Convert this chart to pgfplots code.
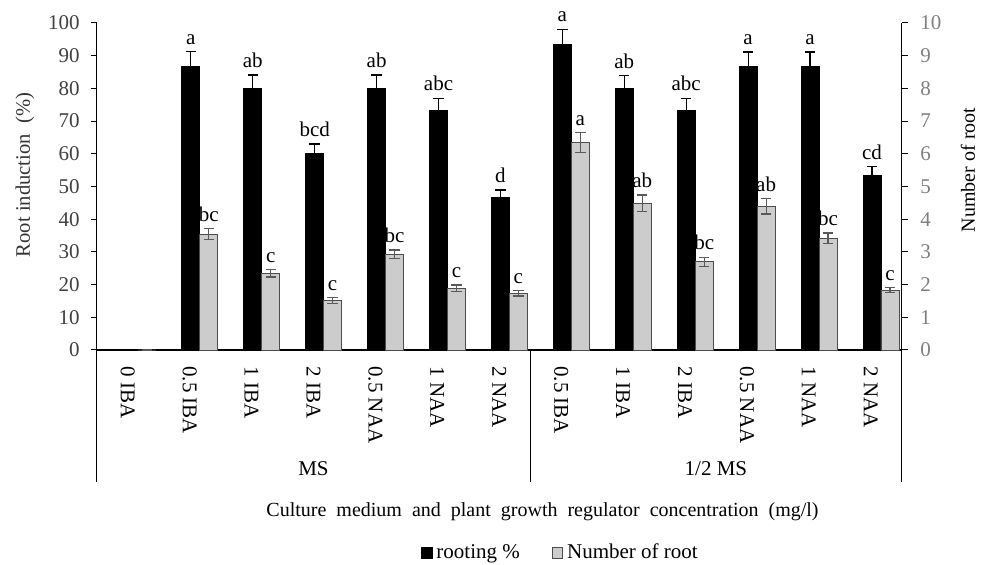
\documentclass[border=0pt]{standalone}
\usepackage{fontspec}
\setmainfont{Liberation Serif}
\usepackage{pgfplots}
\pgfplotsset{compat=1.18}
\usepackage{pgfplotstable}
\newcommand\fs[1]{\fontsize{#1}{#1}\selectfont}

\pgfplotstableread{
x  root  rerr  rl   num   nerr  nl
0  0     0     x    0     0     x
1  86.7  4.5   a    3.54  0.17  bc
2  80.0  4.1   ab   2.35  0.12  c
3  60.0  3.0   bcd  1.51  0.09  c
4  80.0  4.1   ab   2.93  0.13  bc
5  73.3  3.7   abc  1.89  0.10  c
6  46.7  2.2   d    1.73  0.08  c
7  93.3  4.8   a    6.34  0.30  a
8  80.0  4.0   ab   4.49  0.25  ab
9  73.3  3.7   abc  2.70  0.14  bc
10 86.7  4.4   a    4.40  0.24  ab
11 86.7  4.4   a    3.42  0.16  bc
12 53.3  2.8   cd   1.83  0.08  c
}\datatable

\begin{document}
\begin{tikzpicture}
\begin{axis}[
  name=ax,
  scale only axis, width=402.5pt, height=163.5pt,
  ybar, bar width=0.29,
  xmin=-0.5, xmax=12.5, ymin=0, ymax=100,
  enlargelimits=false, clip=false,
  axis lines*=left,
  axis line style={line width=0.6pt, black},
  xtick={0,...,12},
  xticklabels={0 IBA,0.5 IBA,1 IBA,2 IBA,0.5 NAA,1 NAA,2 NAA,0.5 IBA,1 IBA,2 IBA,0.5 NAA,1 NAA,2 NAA},
  xtick style={draw=none},
  xticklabel style={rotate=-90, anchor=west, inner sep=0pt, font=\fs{10.5}},
  xticklabel shift=5pt,
  ytick={0,10,...,100},
  tick align=outside, major tick length=3pt,
  ytick style={line width=0.5pt, black},
  yticklabel style={inner sep=0pt, font=\fs{10.5}, text=black!75},
  yticklabel shift=5.35pt,
  /pgf/number format/assume math mode=true,
  ylabel={Root induction~ (\%)},
  every axis y label/.style={at={(axis description cs:-0.0891,0.535)}, rotate=90, anchor=center, font=\fs{10.3}, text=black!80},
  xlabel={Culture~ medium~ and~ plant~ growth~ regulator~ concentration~ (mg/l)},
  every axis x label/.style={at={(axis description cs:0.5538,-0.4954)}, anchor=center, font=\fs{10}},
  legend style={at={(axis description cs:0.5774,-0.6208)}, anchor=center, draw=none, fill=none,
    legend columns=2, font=\fs{10.5}, inner sep=0pt,
    /tikz/every even column/.append style={column sep=14pt}},
  legend cell align=left,
  legend image code/.code={\draw[#1] (0pt,-2.6pt) rectangle (5.2pt,2.6pt);},
]
\addplot[fill=black, draw=black, line width=0.4pt, bar shift=0.02, forget plot,
  error bars/.cd, y dir=plus, y explicit,
  error bar style={black, line width=0.6pt},
  error mark options={rotate=90, mark size=2.6pt, black, line width=0.6pt}]
  table[x=x, y=root, y error=rerr] {\datatable};
\addplot[draw=none, fill=none, bar shift=0.02, forget plot,
  skip coords between index={0}{1},
  nodes near coords, point meta=explicit symbolic,
  every node near coord/.append style={anchor=south, inner sep=0pt, yshift=3.3pt, font=\fs{10.5}, text=black}]
  table[x=x, y expr=\thisrow{root}+\thisrow{rerr}, meta=rl] {\datatable};
\addlegendimage{fill=black, draw=black}
\addlegendentry{rooting \%}
\addlegendimage{fill=gray!40, draw=black!70}
\addlegendentry{Number of root}
% group separators and labels
\draw[line width=0.6pt, black] (axis cs:-0.5,0) -- ([yshift=-66pt]axis cs:-0.5,0);
\draw[line width=0.6pt, black] (axis cs:6.5,0) -- ([yshift=-66pt]axis cs:6.5,0);
\draw[line width=0.6pt, black] (axis cs:12.5,0) -- ([yshift=-66pt]axis cs:12.5,0);
\node[font=\fs{10.5}, anchor=center] at ([yshift=-59.5pt]axis cs:3,0) {MS};
\node[font=\fs{10.5}, anchor=center] at ([yshift=-59.5pt]axis cs:9.5,0) {1/2 MS};
\end{axis}

\begin{axis}[
  scale only axis, width=402.5pt, height=163.5pt,
  ybar, bar width=0.29,
  xmin=-0.5, xmax=12.5, ymin=0, ymax=10,
  enlargelimits=false, clip=false,
  axis y line*=right, axis x line=none,
  axis line style={line width=0.6pt, black},
  ytick={0,1,...,10},
  tick align=outside, major tick length=3pt,
  ytick style={line width=0.5pt, black},
  yticklabel style={inner sep=0pt, font=\fs{10.5}, text=black!50},
  yticklabel shift=6.15pt,
  /pgf/number format/assume math mode=true,
  ylabel={Number of root},
  every axis y label/.style={at={(axis description cs:1.0824,0.5505)}, rotate=90, anchor=center, font=\fs{10}, text=black},
]
\addplot[fill=gray!40, draw=black!70, line width=0.4pt, bar shift=0.31, forget plot,
  error bars/.cd, y dir=both, y explicit,
  error bar style={black!65, line width=0.6pt},
  error mark options={rotate=90, mark size=2.6pt, black!65, line width=0.6pt}]
  table[x=x, y=num, y error=nerr] {\datatable};
\addplot[draw=none, fill=none, bar shift=0.31, forget plot,
  skip coords between index={0}{1},
  nodes near coords, point meta=explicit symbolic,
  every node near coord/.append style={anchor=south, inner sep=0pt, yshift=3.3pt, font=\fs{10.5}, text=black}]
  table[x=x, y expr=\thisrow{num}+\thisrow{nerr}, meta=nl] {\datatable};
\end{axis}
\pgfresetboundingbox
\path[use as bounding box] ([xshift=-48.35pt,yshift=-107.5pt]ax.south west) rectangle ([xshift=446.15pt,yshift=175pt]ax.south west);
\end{tikzpicture}
\end{document}
